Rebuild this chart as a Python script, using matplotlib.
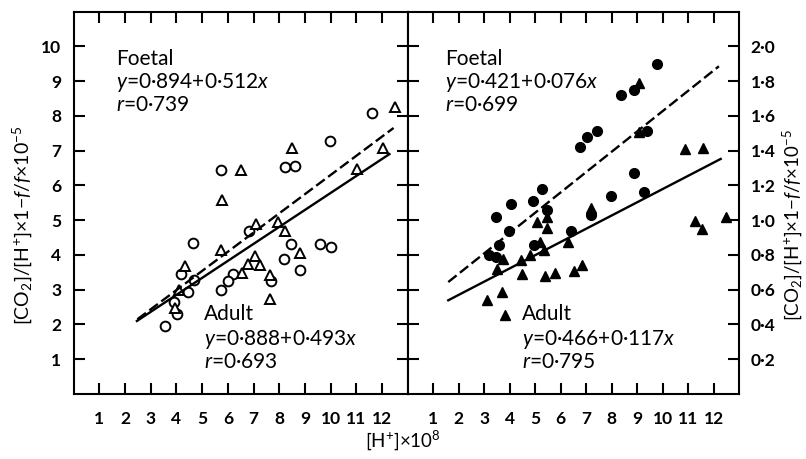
import matplotlib
matplotlib.use('Agg')
import matplotlib.pyplot as plt

plt.rcParams['font.family'] = ['Lato', 'DejaVu Sans']
plt.rcParams['mathtext.fontset'] = 'custom'
plt.rcParams['mathtext.rm'] = 'Lato'
plt.rcParams['mathtext.it'] = 'Lato:italic'
plt.rcParams['mathtext.bf'] = 'Lato:bold'

# left panel (units x10^-5, left scale)
left_circ_x = [11.60, 9.97, 5.74, 8.21, 8.61, 4.65, 6.82, 8.45, 9.58, 10.01, 8.19,
               8.80, 4.18, 4.70, 4.44, 6.21, 6.00, 5.74, 7.69, 3.92, 4.02, 3.57]
left_circ_y = [8.07, 7.29, 6.43, 6.52, 6.56, 4.34, 4.69, 4.30, 4.32, 4.23, 3.89,
               3.58, 3.46, 3.27, 2.93, 3.44, 3.25, 3.00, 3.25, 2.65, 2.29, 1.95]
left_tri_x = [12.52, 8.49, 6.50, 5.78, 11.03, 12.05, 7.11, 7.95, 8.21, 5.74, 8.81,
              7.04, 6.78, 7.25, 6.56, 7.64, 7.64, 4.32, 4.11, 3.93]
left_tri_y = [8.24, 7.08, 6.43, 5.59, 6.47, 7.08, 4.90, 4.96, 4.68, 4.13, 4.05,
              3.96, 3.73, 3.70, 3.48, 3.43, 2.72, 3.68, 2.98, 2.46]
left_foetal_line_x = [2.48, 12.45]
left_foetal_line_y = [2.15, 7.65]
left_adult_line_x = [2.46, 12.29]
left_adult_line_y = [2.10, 6.90]

# right panel (right scale)
right_circ_x = [9.77, 8.37, 8.88, 9.38, 6.76, 7.03, 7.41, 8.88, 9.28, 7.98, 5.26,
                4.91, 4.04, 3.45, 5.47, 7.19, 3.97, 3.57, 3.19, 3.48, 4.97, 6.41]
right_circ_y = [1.90, 1.72, 1.75, 1.51, 1.42, 1.48, 1.51, 1.27, 1.16, 1.14, 1.18,
                1.11, 1.09, 1.02, 1.06, 1.03, 0.935, 0.855, 0.80, 0.79, 0.855, 0.94]
right_tri_x = [9.05, 9.07, 10.87, 11.57, 11.26, 11.55, 12.46, 7.19, 5.47, 5.08, 5.47,
               5.36, 5.17, 4.78, 4.43, 6.30, 3.73, 3.51, 4.49, 5.39, 5.79, 6.50,
               6.84, 3.71, 3.11, 3.81]
right_tri_y = [1.79, 1.505, 1.41, 1.415, 0.994, 0.951, 1.017, 1.07, 1.02, 0.99, 0.956,
               0.826, 0.874, 0.797, 0.773, 0.874, 0.778, 0.717, 0.692, 0.677, 0.696, 0.707,
               0.74, 0.587, 0.539, 0.453]
right_foetal_line_x = [1.59, 12.2]
right_foetal_line_y = [0.644, 1.885]
right_adult_line_x = [1.59, 12.27]
right_adult_line_y = [0.539, 1.352]

x_ticks = list(range(1, 13))
left_y_ticks = list(range(1, 11))
right_y_ticks = [0.2, 0.4, 0.6, 0.8, 1.0, 1.2, 1.4, 1.6, 1.8, 2.0]
right_y_labels = ['0·2', '0·4', '0·6', '0·8', '1·0', '1·2', '1·4', '1·6', '1·8', '2·0']

ylabel = r'[CO$_2$]/[H$^{+}$]$\times$1$-$$f/f$$\times$10$^{-5}$'

fig = plt.figure(figsize=(8.06, 4.59), dpi=100)
ax1 = fig.add_axes([73.7/806, 65/459, 334/806, 382.5/459])
ax2 = fig.add_axes([407.7/806, 65/459, 331.6/806, 382.5/459])

lw = 1.5
tick_font = dict(fontsize=12.5, fontweight='bold')

for ax in (ax1, ax2):
    for s in ax.spines.values():
        s.set_linewidth(lw)
    ax.set_xlim(0, 13)
    ax.set_xticks(x_ticks)
    ax.set_xticklabels([str(t) for t in x_ticks], **tick_font)
    ax.tick_params(axis='x', direction='in', length=8, width=lw, top=True, pad=12)
    ax.tick_params(axis='y', direction='in', length=8, width=lw, left=True, right=True)

ax1.set_ylim(0, 11)
ax1.set_yticks(left_y_ticks)
ax1.set_yticklabels([str(t) for t in left_y_ticks], **tick_font)
ax1.tick_params(axis='y', pad=9)

ax2.set_ylim(0, 2.2)
ax2.set_yticks(right_y_ticks)
ax2.yaxis.tick_right()
ax2.tick_params(axis='y', direction='in', length=8, width=lw, left=True, right=True,
                labelleft=False, labelright=True, pad=8)
ax2.set_yticklabels(right_y_labels, **tick_font)

# left panel marks
ax1.plot(left_circ_x, left_circ_y, 'o', ms=7, mfc='white', mec='black', mew=1.4)
ax1.plot(left_tri_x, left_tri_y, '^', ms=6.5, mfc='white', mec='black', mew=1.4)
ax1.plot(left_foetal_line_x, left_foetal_line_y, color='black', lw=1.7, ls=(0, (4.5, 1.8)))
ax1.plot(left_adult_line_x, left_adult_line_y, color='black', lw=1.7)

# right panel marks
ax2.plot(right_circ_x, right_circ_y, 'o', ms=7, color='black')
ax2.plot(right_tri_x, right_tri_y, '^', ms=7, color='black')
ax2.plot(right_foetal_line_x, right_foetal_line_y, color='black', lw=1.7, ls=(0, (4.5, 1.8)))
ax2.plot(right_adult_line_x, right_adult_line_y, color='black', lw=1.7)

fs = 15
def block(ax, x, ys, lines):
    for y, s in zip(ys, lines):
        ax.text(x, y, s, transform=ax.transAxes, fontsize=fs, va='baseline', ha='left')

top_ys = [(394 - 65) / 382.5, (394 - 88) / 382.5, (394 - 111) / 382.5]
bot_ys = [(394 - 320.5) / 382.5, (394 - 345) / 382.5, (394 - 368.5) / 382.5]

block(ax1, 0.127, top_ys, ['Foetal', '$y$=0·894+0·512$x$', '$r$=0·739'])
block(ax1, 0.390, bot_ys, ['Adult', '$y$=0·888+0·493$x$', '$r$=0·693'])
block(ax2, 0.1125, top_ys, ['Foetal', '$y$=0·421+0·076$x$', '$r$=0·699'])
block(ax2, 0.344, bot_ys, ['Adult', '$y$=0·466+0·117$x$', '$r$=0·795'])

fig.text(22/806, 0.51, ylabel, rotation=90, ha='center', va='center', fontsize=14)
fig.text(792/806, 0.51, ylabel, rotation=90, ha='center', va='center', fontsize=13.5)
fig.text(403/806, 1 - 440/459, '[H$^{+}$]$\\times$10$^{8}$', ha='center', va='center', fontsize=13.5)

fig.savefig('out.png', dpi=100)
